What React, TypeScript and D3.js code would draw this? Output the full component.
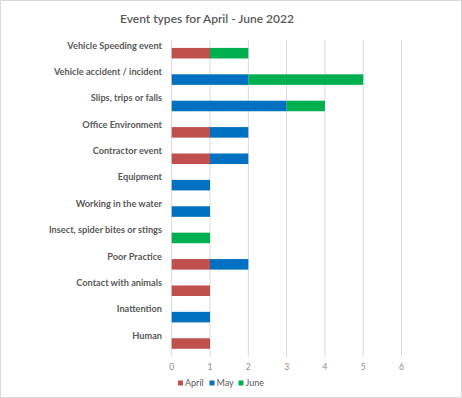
import React from 'react'
import * as d3 from 'd3'

const categories = [
  'Vehicle Speeding event',
  'Vehicle accident / incident',
  'Slips, trips or falls',
  'Office Environment',
  'Contractor event',
  'Equipment',
  'Working in the water',
  'Insect, spider bites or stings',
  'Poor Practice',
  'Contact with animals',
  'Inattention',
  'Human',
]

const april = [1, 0, 0, 1, 1, 0, 0, 0, 1, 1, 0, 1]
const may = [0, 2, 3, 1, 1, 1, 1, 0, 1, 0, 1, 0]
const june = [1, 3, 1, 0, 0, 0, 0, 1, 0, 0, 0, 0]

const seriesNames = ['April', 'May', 'June']
const seriesColors = ['#c0504d', '#0070c0', '#00b050']
const xTicks = [0, 1, 2, 3, 4, 5, 6]

const W = 462
const H = 398
const FONT = 'Lato, "Open Sans", sans-serif'

export default function App() {
  // plot area taken from the reference's gridlines
  const x = d3.scaleLinear().domain([0, 6]).range([171.7, 401.5])
  const y = d3.scaleBand<string>().domain(categories).range([40, 356.7]).paddingInner(0.6).paddingOuter(0.3)

  const rows = categories.map((c, i) => ({ cat: c, April: april[i], May: may[i], June: june[i] }))
  const stacked = d3.stack<any>().keys(seriesNames)(rows)

  const legendX = [178, 209.5, 238.5]

  return (
    <svg width={W} height={H} style={{ position: 'absolute', left: 0, top: 0, background: '#fff' }}>
      <rect x={0.5} y={0.5} width={W - 1} height={H - 1} fill="#fff" stroke="#d9d9d9" />
      <text x={207} y={22.5} textAnchor="middle" fontFamily={FONT} fontSize={12} fontWeight={600} fill="#595959">
        Event types for April - June 2022
      </text>

      {xTicks.map(t => (
        <line key={t} x1={x(t)} x2={x(t)} y1={40} y2={356.7} stroke="#d9d9d9" strokeWidth={1} />
      ))}

      {stacked.map((s, si) => (
        <g key={s.key} fill={seriesColors[si]}>
          {s.map((d, i) => d[1] - d[0] > 0 ? (
            <rect key={i} x={x(d[0])} y={y(categories[i])} width={x(d[1]) - x(d[0])} height={y.bandwidth()} />
          ) : null)}
        </g>
      ))}

      {categories.map(c => (
        <text key={c} x={162} y={(y(c) as number) + 0.6} textAnchor="end" fontFamily={FONT} fontSize={9.2} fontWeight={700} fill="#595959">
          {c}
        </text>
      ))}

      {xTicks.map(t => (
        <text key={t} x={x(t)} y={370} textAnchor="middle" fontFamily={FONT} fontSize={8.5} fill="#8c8c8c">
          {t}
        </text>
      ))}

      {seriesNames.map((n, i) => (
        <g key={n}>
          <rect x={legendX[i]} y={380.5} width={5} height={5} fill={seriesColors[i]} />
          <text x={legendX[i] + 7} y={386} fontFamily={FONT} fontSize={9} fill="#595959">
            {n}
          </text>
        </g>
      ))}
    </svg>
  )
}
